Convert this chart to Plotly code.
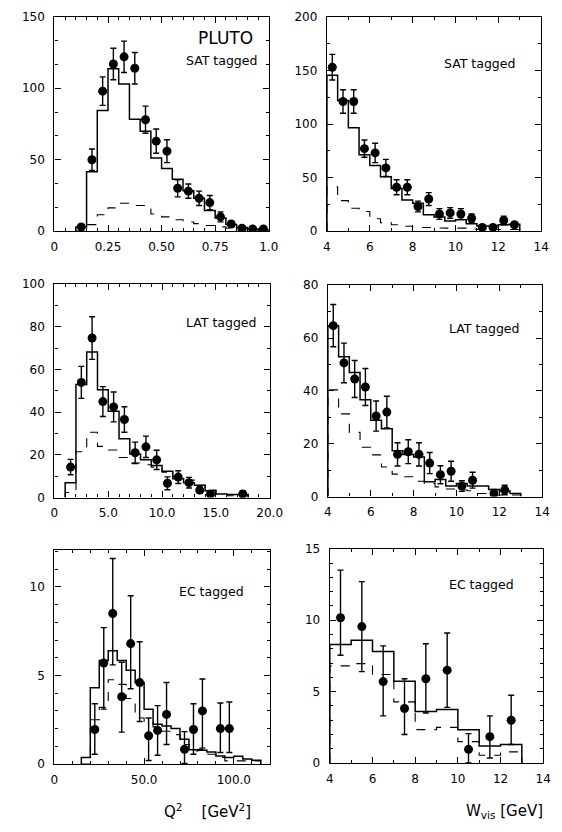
import plotly.graph_objects as go

W, H = 562, 832

# ---------------- data ----------------
# Q^2 (GeV^2), SAT tagged
q2_sat_bin_start, q2_sat_bin_width = 0.10, 0.05
q2_sat_mc_total = [3, 41.6, 84.5, 113.7, 103, 78.3, 70, 51.2, 43.9, 36.3, 28.3, 23, 14.5, 9.2, 4.6, 2.5, 1.4, 1.0]
q2_sat_mc_part = [0, 4.6, 11.5, 16.3, 19.5, 18, 18, 12, 10, 8, 6.4, 5.3, 4, 3, 2, 1, 1, 1]
q2_sat_x = [0.125, 0.175, 0.225, 0.275, 0.325, 0.375, 0.425, 0.475, 0.525, 0.575, 0.625, 0.675, 0.725, 0.775, 0.825, 0.875, 0.925, 0.975]
q2_sat_y = [3, 50, 98, 117, 122, 114, 78, 63, 56, 30, 28, 23, 20, 10, 5, 2, 1.5, 1.5]
q2_sat_err = [1.5, 7.5, 10, 11, 11, 11, 9.5, 8.5, 8, 6, 5, 5, 5, 3.5, 2, 1.5, 1, 1]

# W_vis (GeV), SAT tagged
w_sat_bin_start, w_sat_bin_width = 4.0, 0.5
w_sat_mc_total = [145.5, 122, 96.5, 71.4, 61.3, 50.8, 39.8, 29, 26, 15.3, 13.2, 9.5, 10.7, 7, 4.9, 4.9, 6, 6.4]
w_sat_mc_part = [41.3, 28.5, 21.4, 18.4, 11.6, 8, 6, 4.6, 3.4, 3.4, 3, 2.8, 2.8, 2, 1.5, 1.5, 1.5, 1.5]
w_sat_x = [4.25, 4.75, 5.25, 5.75, 6.25, 6.75, 7.25, 7.75, 8.25, 8.75, 9.25, 9.75, 10.25, 10.75, 11.25, 11.75, 12.25, 12.75]
w_sat_y = [153, 121, 121, 77, 73, 59, 41, 41, 23, 30, 16, 17, 16, 12, 3.5, 3.5, 10, 6]
w_sat_err = [12, 11, 11, 8, 9, 8, 7, 7, 5, 6, 5, 5, 5, 4, 2, 2, 4, 2]

# Q^2 (GeV^2), LAT tagged
q2_lat_bin_start, q2_lat_bin_width = 1.0, 1.0
q2_lat_mc_total = [7, 53, 68.3, 50.5, 40.5, 27.6, 20.4, 17.7, 15, 12.3, 8.8, 7, 5.8, 3.2, 1.7, 1.4, 1.4]
q2_lat_mc_part = [2.4, 21.5, 30.6, 24, 22.3, 18.8, 16.2, 15.4, 14.3, 11.9, 10, 8.2, 5.8, 3.5, 1.7, 0.9, 0.9]
q2_lat_x = [1.5, 2.5, 3.5, 4.5, 5.5, 6.5, 7.5, 8.5, 9.5, 10.5, 11.5, 12.5, 13.5, 14.5, 17.5]
q2_lat_y = [14.3, 54, 74.8, 45, 42.5, 36.6, 21, 23.8, 17.7, 6.7, 9.6, 7, 3.5, 1.7, 1.7]
q2_lat_err = [3.6, 7.5, 10, 7, 7, 6, 5, 5, 4.5, 3, 3, 2.5, 1.5, 1, 1.5]

# W_vis (GeV), LAT tagged
w_lat_bin_start, w_lat_bin_width = 4.0, 0.5
w_lat_mc_total = [64.7, 52.9, 47, 36.7, 28.9, 25.7, 17.4, 15.9, 15, 5.6, 6.5, 4, 5, 4, 4, 2.7, 2.1, 1.2]
w_lat_mc_part = [40.4, 31.3, 24.3, 18.7, 15.8, 11.2, 8.5, 7.5, 5.8, 5, 3.7, 2.9, 2.5, 2.2, 1.2, 0.6, 0.6, 0.6]
w_lat_x = [4.25, 4.75, 5.25, 5.75, 6.25, 6.75, 7.25, 7.75, 8.25, 8.75, 9.25, 9.75, 10.25, 10.75, 11.75, 12.25]
w_lat_y = [64.7, 50.6, 44.5, 41.5, 30.5, 32, 16, 17, 16, 12.7, 8.3, 9.6, 4, 6.2, 1.2, 2.5]
w_lat_err = [8, 7.5, 7, 7, 5.7, 6, 4.4, 4.5, 4.4, 4, 3.4, 3.8, 2, 3, 1.5, 1.8]

# Q^2 (GeV^2), EC tagged
q2_ec_bin_start, q2_ec_bin_width = 15.0, 5.0
q2_ec_mc_total = [0.37, 4.3, 5.85, 6.4, 5.85, 5.3, 4.6, 3.1, 2.25, 2.15, 2.0, 1.4, 0.8, 0.78, 0.68, 0.46, 0.37, 0.44, 0.28, 0.22]
q2_ec_mc_part = [0, 2.5, 3.2, 4.76, 4.5, 3.7, 2.6, 2.4, 2.1, 1.85, 1.66, 1.1, 0.74, 0.83, 0.55, 0.37, 0.18, 0.18, 0.18, 0.18]
q2_ec_x = [22.5, 27.5, 32.5, 37.5, 42.5, 47.5, 52.5, 57.5, 62.5, 72.5, 77.5, 82.5, 92.5, 97.5]
q2_ec_y = [1.95, 5.7, 8.5, 3.8, 6.8, 4.6, 1.6, 1.9, 2.8, 0.83, 1.95, 3.0, 2.0, 2.0]
q2_ec_err_up = [1.45, 2.0, 3.1, 1.95, 2.7, 2.3, 1.0, 1.4, 1.8, 1.0, 1.45, 1.8, 1.45, 1.5]
q2_ec_err_down = [1.4, 2.6, 2.9, 2.0, 2.55, 2.2, 1.4, 1.4, 1.7, 0.8, 1.4, 2.1, 1.35, 1.35]

# W_vis (GeV), EC tagged
w_ec_bin_start, w_ec_bin_width = 4.0, 1.0
w_ec_mc_total = [8.29, 8.6, 7.8, 5.72, 3.6, 3.75, 2.34, 1.2, 1.3]
w_ec_mc_part = [6.8, 6.96, 6.2, 4.28, 2.34, 2.5, 1.5, 0.55, 0.78]
w_ec_x = [4.5, 5.5, 6.5, 7.5, 8.5, 9.5, 10.5, 11.5, 12.5]
w_ec_y = [10.17, 9.55, 5.7, 3.82, 5.9, 6.5, 0.96, 1.85, 3.0]
w_ec_err_up = [3.33, 3.15, 2.5, 2.08, 2.45, 2.6, 1.1, 1.45, 1.75]
w_ec_err_down = [2.62, 3.15, 2.4, 1.82, 2.4, 2.6, 0.96, 1.5, 1.7]

panel_labels = ["SAT tagged", "SAT tagged", "LAT tagged", "LAT tagged", "EC tagged", "EC tagged"]


def step_xy(start, width, vals):
    xs = [start]
    ys = [0]
    for i, v in enumerate(vals):
        xs.append(start + i * width)
        ys.append(v)
    xs.append(start + len(vals) * width)
    ys.append(0)
    return xs, ys


FONT = "DejaVu Sans"
fig = go.Figure()

panels = [
    dict(bs=q2_sat_bin_start, bw=q2_sat_bin_width, tot=q2_sat_mc_total, part=q2_sat_mc_part,
         x=q2_sat_x, y=q2_sat_y, eu=q2_sat_err, ed=q2_sat_err),
    dict(bs=w_sat_bin_start, bw=w_sat_bin_width, tot=w_sat_mc_total, part=w_sat_mc_part,
         x=w_sat_x, y=w_sat_y, eu=w_sat_err, ed=w_sat_err),
    dict(bs=q2_lat_bin_start, bw=q2_lat_bin_width, tot=q2_lat_mc_total, part=q2_lat_mc_part,
         x=q2_lat_x, y=q2_lat_y, eu=q2_lat_err, ed=q2_lat_err),
    dict(bs=w_lat_bin_start, bw=w_lat_bin_width, tot=w_lat_mc_total, part=w_lat_mc_part,
         x=w_lat_x, y=w_lat_y, eu=w_lat_err, ed=w_lat_err),
    dict(bs=q2_ec_bin_start, bw=q2_ec_bin_width, tot=q2_ec_mc_total, part=q2_ec_mc_part,
         x=q2_ec_x, y=q2_ec_y, eu=q2_ec_err_up, ed=q2_ec_err_down),
    dict(bs=w_ec_bin_start, bw=w_ec_bin_width, tot=w_ec_mc_total, part=w_ec_mc_part,
         x=w_ec_x, y=w_ec_y, eu=w_ec_err_up, ed=w_ec_err_down),
]

for i, p in enumerate(panels):
    ax = "" if i == 0 else str(i + 1)
    xs, ys = step_xy(p["bs"], p["bw"], p["part"])
    fig.add_trace(go.Scatter(x=xs, y=ys, mode="lines", line=dict(shape="hv", color="black", width=1.1, dash="dash"),
                             xaxis="x" + ax, yaxis="y" + ax, showlegend=False, hoverinfo="skip"))
    xs, ys = step_xy(p["bs"], p["bw"], p["tot"])
    fig.add_trace(go.Scatter(x=xs, y=ys, mode="lines", line=dict(shape="hv", color="black", width=1.5),
                             xaxis="x" + ax, yaxis="y" + ax, showlegend=False, hoverinfo="skip"))
    fig.add_trace(go.Scatter(x=p["x"], y=p["y"], mode="markers",
                             marker=dict(color="black", size=9, symbol="circle"),
                             error_y=dict(type="data", symmetric=False, array=p["eu"], arrayminus=p["ed"],
                                          color="black", thickness=1.4, width=3),
                             xaxis="x" + ax, yaxis="y" + ax, showlegend=False))

# pixel boxes of the six frames: (left, right, top, bottom)
boxes = [
    (52, 273, 10, 228), (333, 554, 10, 228),
    (52, 274, 282, 499), (334, 555, 283, 498),
    (52, 274, 552, 770), (336, 556, 551, 769),
]
xranges = [[0, 1.0], [4, 14], [0, 20], [4, 14], [0, 120], [4, 14]]
yranges = [[0, 150], [0, 200], [0, 100], [0, 80], [0, 12.1], [0, 15]]
xticks = [dict(tickvals=[0, 0.25, 0.5, 0.75, 1.0], ticktext=["0", "0.25", "0.50", "0.75", "1.0"], minor=0.05),
          dict(tickvals=[4, 6, 8, 10, 12, 14], ticktext=["4", "6", "8", "10", "12", "14"], minor=1),
          dict(tickvals=[0, 5, 10, 15, 20], ticktext=["0", "5.0", "10.0", "15.0", "20.0"], minor=1),
          dict(tickvals=[4, 6, 8, 10, 12, 14], ticktext=["4", "6", "8", "10", "12", "14"], minor=1),
          dict(tickvals=[0, 50, 100], ticktext=["0", "50.0", "100.0"], minor=10),
          dict(tickvals=[4, 6, 8, 10, 12, 14], ticktext=["4", "6", "8", "10", "12", "14"], minor=1)]
yticks = [dict(tickvals=[0, 50, 100, 150], minor=50 / 3),
          dict(tickvals=[0, 50, 100, 150, 200], minor=25),
          dict(tickvals=[0, 20, 40, 60, 80, 100], minor=10),
          dict(tickvals=[0, 20, 40, 60, 80], minor=10),
          dict(tickvals=[0, 5, 10], minor=1),
          dict(tickvals=[0, 5, 10, 15], minor=1)]

tickbase = dict(ticks="inside", ticklen=6, tickwidth=1.2, tickcolor="black", showgrid=False, zeroline=False,
                tickfont=dict(family=FONT, size=12, color="black"))

layout = {}
n = len(boxes)
for i, (l, r, t, b) in enumerate(boxes):
    ax = "" if i == 0 else str(i + 1)
    ox = str(n + i + 1)
    xt, yt = xticks[i], yticks[i]
    xminor = dict(dtick=xt["minor"], tick0=0, ticks="inside", ticklen=3, tickwidth=1, tickcolor="black", showgrid=False)
    yminor = dict(dtick=yt["minor"], tick0=0, ticks="inside", ticklen=3, tickwidth=1, tickcolor="black", showgrid=False)
    layout["xaxis" + ax] = dict(tickbase, showline=True, linecolor="black", linewidth=1.4, mirror=True,
                                domain=[l / W, r / W], range=xranges[i], anchor="y" + ax,
                                tickmode="array", tickvals=xt["tickvals"], ticktext=xt["ticktext"],
                                minor=xminor, ticklabelstandoff=4)
    layout["yaxis" + ax] = dict(tickbase, showline=True, linecolor="black", linewidth=1.4, mirror=True,
                                domain=[1 - b / H, 1 - t / H], range=yranges[i], anchor="x" + ax,
                                tickmode="array", tickvals=yt["tickvals"],
                                minor=yminor, ticklabelstandoff=6)
    # tick sets repeated on the top and right edges of each frame
    layout["xaxis" + ox] = dict(tickbase, showline=False, overlaying="x" + ax, side="top", anchor="y" + ax,
                                range=xranges[i], tickmode="array", tickvals=xt["tickvals"],
                                showticklabels=False, minor=xminor)
    layout["yaxis" + ox] = dict(tickbase, showline=False, overlaying="y" + ax, side="right", anchor="x" + ax,
                                range=yranges[i], tickmode="array", tickvals=yt["tickvals"],
                                showticklabels=False, minor=yminor)
    fig.add_trace(go.Scatter(x=[xranges[i][0]], y=[yranges[i][0]], mode="markers", marker=dict(opacity=0),
                             xaxis="x" + ox, yaxis="y" + ox, showlegend=False, hoverinfo="skip"))

annotations = []


def ann(text, px, py, size=12.5, xanchor="center"):
    annotations.append(dict(text=text, x=px / W, y=1 - py / H, xref="paper", yref="paper",
                            showarrow=False, xanchor=xanchor, yanchor="middle",
                            font=dict(family=FONT, size=size, color="black")))


ann("PLUTO", 228, 32, size=17)
label_pos = [(224, 54), (490, 57), (224, 321), (496, 327), (214, 595), (492, 587)]
for lab, (px, py) in zip(panel_labels, label_pos):
    ann(lab, px, py)
ann("Q<sup>2</sup>    [GeV<sup>2</sup>]", 210, 818, size=15)
ann("W<sub>vis</sub> [GeV]", 516, 818, size=15)

fig.update_layout(width=W, height=H, margin=dict(l=0, r=0, t=0, b=0),
                  paper_bgcolor="white", plot_bgcolor="white",
                  annotations=annotations, **layout)

fig.write_html("out.html", config={"displayModeBar": False},
               post_script="document.body.style.margin='0';document.body.style.overflow='hidden';")
